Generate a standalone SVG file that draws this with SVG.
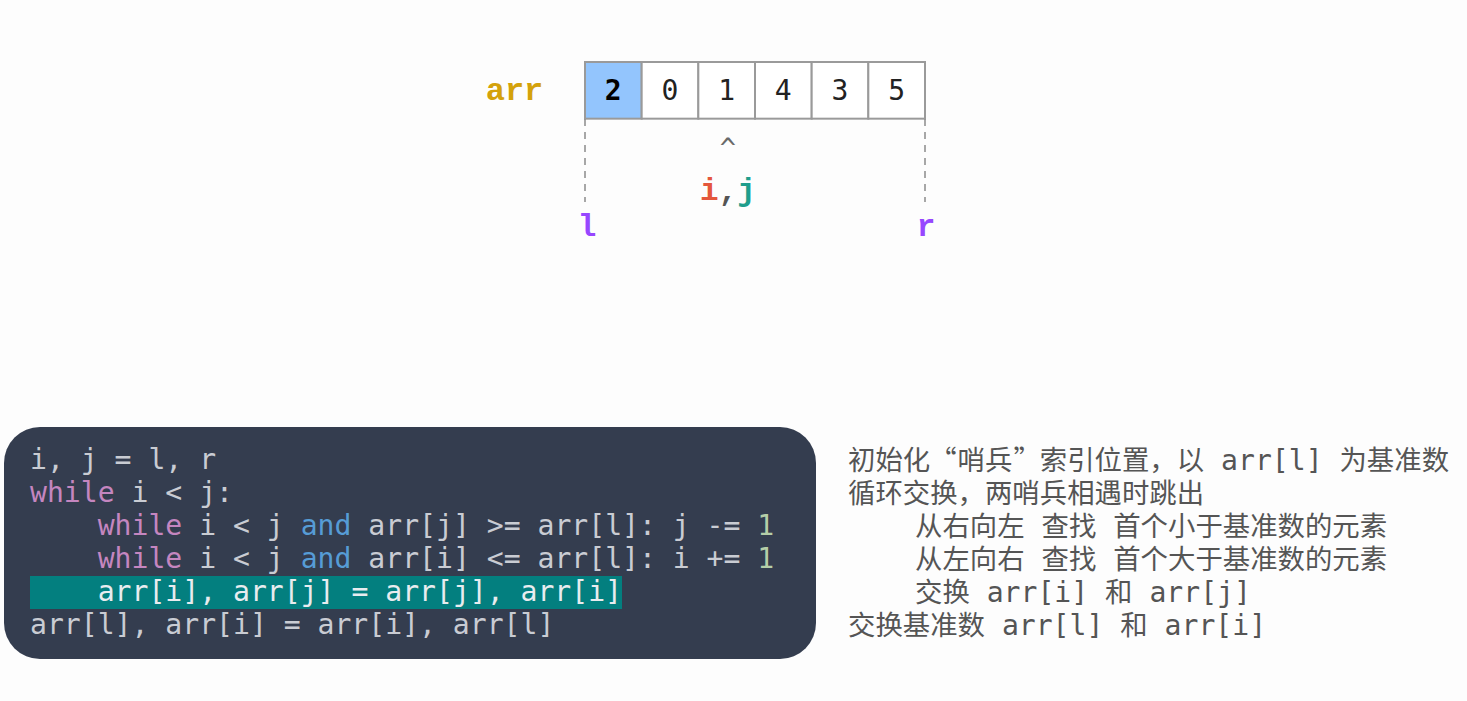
<svg xmlns="http://www.w3.org/2000/svg" width="1467" height="701" viewBox="0 0 1467 701">
<style>
.bg{fill:#fdfdfd}
.cell{fill:#ffffff;stroke:#9a9a9a;stroke-width:2}
.cell.hl{fill:#93c5fd}
.num{font-family:"DejaVu Sans Mono",monospace;font-size:28px;fill:#222;text-anchor:middle}
.num.b{font-weight:bold;fill:#000}
.lbl{font-family:"Liberation Mono",monospace;font-weight:bold;text-anchor:middle}
.dash{stroke:#8a8a8a;stroke-width:1.5;stroke-dasharray:7 6;fill:none}
.code{font-family:"DejaVu Sans Mono",monospace;font-size:28.1px;fill:#c9ccd3}
.kw{fill:#c586c0}
.and{fill:#569cd6}
.n1{fill:#b5cea8}
.hltext{fill:#e8ecef}
.desc{fill:#555555}
.cjk{font-family:"Noto Sans CJK SC",sans-serif;font-size:27.4px}
.lat{font-family:"DejaVu Sans Mono",monospace;font-size:28.1px}
</style>
<rect class="bg" x="0" y="0" width="1467" height="701"/>

<g id="array-label">
<text class="lbl" x="514.5" y="100" font-size="32" fill="#d4a20b">arr</text>
</g>

<g id="array">
<rect class="cell hl" x="585" y="62" width="56.67" height="56.67"/>
<rect class="cell" x="641.67" y="62" width="56.67" height="56.67"/>
<rect class="cell" x="698.33" y="62" width="56.67" height="56.67"/>
<rect class="cell" x="755" y="62" width="56.67" height="56.67"/>
<rect class="cell" x="811.67" y="62" width="56.67" height="56.67"/>
<rect class="cell" x="868.33" y="62" width="56.67" height="56.67"/>
<text class="num b" x="613.3" y="100">2</text>
<text class="num" x="670" y="100">0</text>
<text class="num" x="726.7" y="100">1</text>
<text class="num" x="783.3" y="100">4</text>
<text class="num" x="840" y="100">3</text>
<text class="num" x="896.7" y="100">5</text>
</g>

<g id="connectors">
<line class="dash" x1="585" y1="119" x2="585" y2="202"/>
<line class="dash" x1="925" y1="119" x2="925" y2="202"/>
</g>

<g id="pointer-ij">
<text x="728" y="157" font-family="DejaVu Sans Mono, monospace" font-size="27" fill="#6a6a6a" text-anchor="middle">^</text>
<text class="lbl" x="728" y="200" font-size="31"><tspan fill="#e4573c">i</tspan><tspan fill="#555">,</tspan><tspan fill="#1f9e8c">j</tspan></text>
</g>

<g id="pointer-l">
<text class="lbl" x="587" y="236" font-size="31" fill="#9747ff">l</text>
</g>
<g id="pointer-r">
<text class="lbl" x="926" y="236" font-size="31" fill="#9747ff">r</text>
</g>

<g id="code-block">
<rect x="4" y="427" width="812" height="232" rx="36" ry="36" fill="#343d4f"/>
<rect x="30" y="576" width="592" height="33" fill="#037f7f"/>
<text class="code" x="30" y="469">i, j = l, r</text>
<text class="code" x="30" y="502"><tspan class="kw">while</tspan> i &lt; j:</text>
<text class="code" x="97.7" y="535"><tspan class="kw">while</tspan> i &lt; j <tspan class="and">and</tspan> arr[j] &gt;= arr[l]: j -= <tspan class="n1">1</tspan></text>
<text class="code" x="97.7" y="568"><tspan class="kw">while</tspan> i &lt; j <tspan class="and">and</tspan> arr[i] &lt;= arr[l]: i += <tspan class="n1">1</tspan></text>
<text class="code hltext" x="97.7" y="601">arr[i], arr[j] = arr[j], arr[i]</text>
<text class="code" x="30" y="634">arr[l], arr[i] = arr[i], arr[l]</text>
</g>

<g id="description">
<text class="desc cjk" x="848" y="470">初始化</text>
<text class="desc cjk" x="956.6" y="470" text-anchor="end">“</text>
<text class="desc cjk" x="957.6" y="470">哨兵</text>
<text class="desc cjk" x="1013.4" y="470">”</text>
<text class="desc" x="1039.8" y="470" xml:space="preserve"><tspan class="cjk">索引位置，以</tspan><tspan class="lat"> arr[l] </tspan><tspan class="cjk">为基准数</tspan></text>
<text class="desc cjk" x="848" y="503">循环交换，两哨兵相遇时跳出</text>
<text class="desc" x="915" y="536" xml:space="preserve"><tspan class="cjk">从右向左</tspan><tspan class="lat"> </tspan><tspan class="cjk">查找</tspan><tspan class="lat"> </tspan><tspan class="cjk">首个小于基准数的元素</tspan></text>
<text class="desc" x="915" y="569" xml:space="preserve"><tspan class="cjk">从左向右</tspan><tspan class="lat"> </tspan><tspan class="cjk">查找</tspan><tspan class="lat"> </tspan><tspan class="cjk">首个大于基准数的元素</tspan></text>
<text class="desc" x="915" y="602" xml:space="preserve"><tspan class="cjk">交换</tspan><tspan class="lat"> arr[i] </tspan><tspan class="cjk">和</tspan><tspan class="lat"> arr[j]</tspan></text>
<text class="desc" x="848" y="635" xml:space="preserve"><tspan class="cjk">交换基准数</tspan><tspan class="lat"> arr[l] </tspan><tspan class="cjk">和</tspan><tspan class="lat"> arr[i]</tspan></text>
</g>
</svg>
